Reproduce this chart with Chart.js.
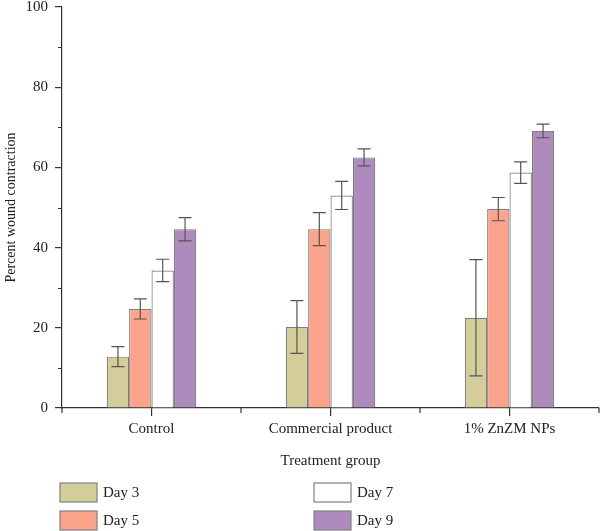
<!DOCTYPE html>
<html>
<head>
<meta charset="utf-8">
<script src="https://cdn.jsdelivr.net/npm/chart.js@4"></script>
<style>
  html, body { margin: 0; padding: 0; background: #fff; }
  #wrap { width: 600px; height: 531px; }
</style>
</head>
<body>
<div id="wrap"><canvas id="chart"></canvas></div>
<script>
// groups and series
const groups = ['Control', 'Commercial product', '1% ZnZM NPs'];
const dayLabels = ['Day 3', 'Day 5', 'Day 7', 'Day 9'];

const day3 = [12.8, 20.2, 22.5];
const day5 = [24.7, 44.6, 49.6];
const day7 = [34.3, 53.0, 58.7];
const day9 = [44.6, 62.5, 69.1];

const day3Err = [2.5, 6.6, 14.5];
const day5Err = [2.5, 4.1, 2.9];
const day7Err = [2.8, 3.5, 2.7];
const day9Err = [2.9, 2.1, 1.7];

const yTicks = [0, 20, 40, 60, 80, 100];
const yMinor = [10, 30, 50, 70, 90];

const fills = ['#d3cd99', '#fba48b', '#ffffff', '#ae8bbd'];
const serif = 'Liberation Serif, DejaVu Serif, serif';
const axisColor = '#333';

const errs = [day3Err, day5Err, day7Err, day9Err];

const errorBars = {
  id: 'errorBars',
  afterDatasetsDraw(chart) {
    const ctx = chart.ctx;
    const y = chart.scales.y;
    ctx.save();
    ctx.strokeStyle = '#555';
    ctx.lineWidth = 1.2;
    chart.data.datasets.forEach((ds, di) => {
      const meta = chart.getDatasetMeta(di);
      meta.data.forEach((bar, i) => {
        const v = ds.data[i], e = errs[di][i];
        const top = y.getPixelForValue(v + e);
        const bot = y.getPixelForValue(v - e);
        ctx.beginPath();
        ctx.moveTo(bar.x, top); ctx.lineTo(bar.x, bot);
        ctx.moveTo(bar.x - 6.5, top); ctx.lineTo(bar.x + 6.5, top);
        ctx.moveTo(bar.x - 6.5, bot); ctx.lineTo(bar.x + 6.5, bot);
        ctx.stroke();
      });
    });
    ctx.restore();
  }
};

// minor ticks on both axes
const minorTicks = {
  id: 'minorTicks',
  afterDraw(chart) {
    const ctx = chart.ctx;
    const x = chart.scales.x, y = chart.scales.y;
    const area = chart.chartArea;
    ctx.save();
    ctx.strokeStyle = axisColor;
    ctx.lineWidth = 1.2;
    ctx.beginPath();
    yMinor.forEach(v => {
      const py = Math.round(y.getPixelForValue(v)) + 0.5;
      ctx.moveTo(area.left - 4, py); ctx.lineTo(area.left, py);
    });
    const bounds = [area.left, area.right];
    for (let i = 0; i < groups.length - 1; i++) {
      bounds.push((x.getPixelForValue(i) + x.getPixelForValue(i + 1)) / 2);
    }
    bounds.forEach(px => {
      ctx.moveTo(px, area.bottom); ctx.lineTo(px, area.bottom + 5);
    });
    ctx.stroke();
    ctx.restore();
  }
};

// two-column legend under the axis title
const legendBoxes = {
  id: 'legendBoxes',
  afterDraw(chart) {
    const ctx = chart.ctx;
    const cols = [60, 314], rows = [483, 511];
    const order = [[0, 0], [0, 1], [1, 0], [1, 1]];
    ctx.save();
    ctx.font = '15px ' + serif;
    ctx.textBaseline = 'middle';
    chart.data.datasets.forEach((ds, di) => {
      const [c, r] = order[di];
      const bx = cols[c], by = rows[r];
      ctx.fillStyle = ds.backgroundColor;
      ctx.fillRect(bx, by, 37, 19);
      ctx.strokeStyle = '#808080';
      ctx.lineWidth = 1.2;
      ctx.strokeRect(bx, by, 37, 19);
      ctx.fillStyle = '#222';
      ctx.fillText(ds.label, bx + 43, by + 10);
    });
    ctx.restore();
  }
};

const data = {
  labels: groups,
  datasets: [day3, day5, day7, day9].map((vals, i) => ({
    label: dayLabels[i],
    data: vals,
    backgroundColor: fills[i],
    borderColor: '#7d7d7d',
    borderWidth: 1.2,
    categoryPercentage: 0.5,
    barPercentage: 1.0
  }))
};

new Chart(document.getElementById('chart'), {
  type: 'bar',
  data: data,
  options: {
    responsive: true,
    maintainAspectRatio: false,
    animation: false,
    layout: { padding: { top: 7, right: 1, bottom: 57, left: 0 } },
    plugins: {
      legend: { display: false },
      tooltip: { enabled: false }
    },
    scales: {
      x: {
        offset: true,
        grid: { drawOnChartArea: false, drawTicks: true, tickLength: 8, offset: false, color: axisColor, lineWidth: 1.2 },
        border: { color: axisColor, width: 1.2 },
        ticks: { font: { family: serif, size: 15 }, color: '#222', padding: 4 },
        title: { display: true, text: 'Treatment group', font: { family: serif, size: 15 }, color: '#222', padding: { top: 8 } },
        afterFit(scale) { scale.height = 66; scale.paddingLeft = 0; scale.paddingRight = 0; }
      },
      y: {
        min: 0,
        max: 100,
        afterBuildTicks(scale) { scale.ticks = yTicks.map(v => ({ value: v })); },
        grid: { drawOnChartArea: false, drawTicks: true, tickLength: 7, color: axisColor, lineWidth: 1.2 },
        border: { color: axisColor, width: 1.2 },
        ticks: { font: { family: serif, size: 15 }, color: '#222', padding: 7 },
        title: { display: true, text: 'Percent wound contraction', font: { family: serif, size: 14 }, color: '#222', padding: { top: 3 } },
        afterFit(scale) { scale.width = 62; scale.paddingTop = 0; scale.paddingBottom = 0; }
      }
    }
  },
  plugins: [errorBars, minorTicks, legendBoxes]
});
</script>
</body>
</html>
